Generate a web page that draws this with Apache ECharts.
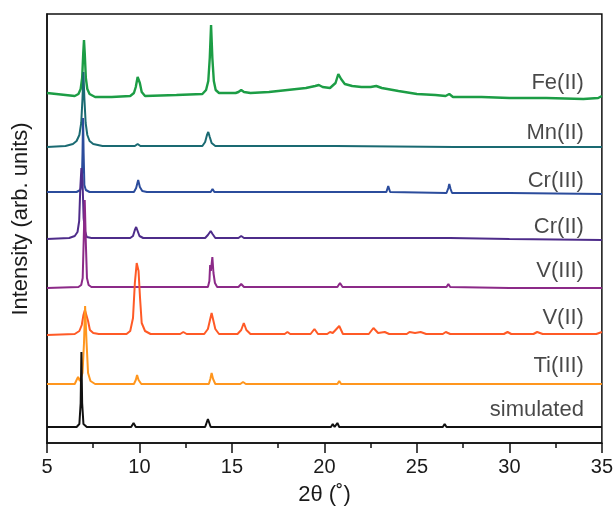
<!DOCTYPE html>
<html>
<head>
<meta charset="utf-8">
<script src="https://cdn.jsdelivr.net/npm/echarts@6/dist/echarts.min.js"></script>
<style>html,body{margin:0;padding:0;background:#fff}#c{width:616px;height:513px}</style>
</head>
<body>
<div id="c"></div>
<script>
// Series names (top to bottom) and colours
var names = ['Fe(II)', 'Mn(II)', 'Cr(III)', 'Cr(II)', 'V(III)', 'V(II)', 'Ti(III)', 'simulated'];
var colors = ['#1c9d45', '#1a6a72', '#2b4c9c', '#4e2c8a', '#8c2a88', '#ff5a26', '#ff961e', '#111111'];

// Patterns: [2theta, stacked intensity (arb. units, offset included)]
var feII = [[5,350],[6,348],[6.5,347],[6.7,349],[6.82,354],[6.9,365],[6.96,390],[7.0,403],[7.04,390],[7.1,365],[7.18,354],[7.3,349],[7.6,346],[8.5,346],[9.5,347],[9.7,350],[9.8,356],[9.9,366],[9.95,368],[10.02,360],[10.12,351],[10.3,347],[12,348],[13.4,349],[13.6,353],[13.72,362],[13.8,385],[13.87,418],[13.94,385],[14.02,362],[14.12,353],[14.3,350],[15.2,350],[15.35,351],[15.5,353],[15.65,351],[16,350],[17,351],[18,353],[19,355],[19.5,357],[19.7,358],[19.9,356],[20.3,355],[20.6,360],[20.75,369],[20.8,370],[20.9,364],[21.1,359],[21.5,357],[22,356],[22.5,356],[22.8,357],[23.1,355],[24,352],[25,349],[26,348],[26.55,347],[26.75,349],[26.95,346],[28.5,346],[30,345],[32,345],[34,344],[34.8,345],[35,347]];
var mnII = [[5,296],[6,297],[6.4,299],[6.6,302],[6.75,308],[6.85,320],[6.92,345],[6.97,371],[7.02,345],[7.09,320],[7.18,308],[7.3,302],[7.5,299],[8,297],[9.75,297],[9.9,299],[10.05,297],[13.4,297],[13.55,301],[13.65,308],[13.72,311],[13.8,306],[13.9,300],[14.1,297],[16,297],[20.4,297],[20.5,298],[20.6,297],[27,296],[35,296]];
var crIII = [[5,251],[6.6,251],[6.8,253],[6.88,258],[6.92,290],[6.95,325],[6.98,290],[7.02,258],[7.1,253],[7.3,251],[9.7,251],[9.82,255],[9.93,263],[10.02,256],[10.15,252],[10.4,251],[13.85,251],[13.95,254],[14.05,251],[15.4,251],[15.5,252],[15.6,251],[19.5,251],[19.6,253],[19.7,251],[20.4,251],[20.5,252],[20.6,251],[22.6,251],[22.7,253],[22.8,251],[23.35,251],[23.45,257],[23.55,251],[26.6,250],[26.7,255],[26.75,259],[26.82,254],[26.9,250],[30,250],[35,249]];
var crII = [[5,204],[6.2,205],[6.5,207],[6.65,211],[6.74,222],[6.8,255],[6.86,275],[6.92,262],[6.98,225],[7.05,212],[7.15,206],[7.4,205],[9.5,205],[9.65,207],[9.75,213],[9.82,216],[9.9,212],[10.0,207],[10.2,205],[13.55,205],[13.7,208],[13.85,212],[13.95,209],[14.1,205],[15.35,205],[15.5,207],[15.65,205],[19.5,205],[19.6,206],[19.7,205],[20.5,205],[20.6,206],[20.7,205],[22.7,205],[22.8,206],[22.9,205],[24.7,205],[24.8,206],[24.9,205],[26.6,205],[26.7,206],[26.8,205],[30,204],[35,203]];
var vIII = [[5,155],[6.7,156],[6.85,158],[6.93,165],[6.98,200],[7.04,243],[7.1,200],[7.16,165],[7.25,158],[7.4,156],[13.7,156],[13.78,162],[13.82,178],[13.86,172],[13.94,186],[14.0,170],[14.08,160],[14.2,156],[15.35,156],[15.5,159],[15.65,156],[19.5,156],[19.6,157],[19.7,156],[20.7,156],[20.84,160],[20.98,156],[22.6,156],[22.7,157],[22.8,156],[24.8,156],[24.9,157],[25,156],[26.6,156],[26.7,159],[26.8,156],[30,155],[35,155]];
var vII = [[5,108],[6.5,109],[6.75,112],[6.88,118],[6.97,128],[7.05,133],[7.15,131],[7.22,122],[7.32,113],[7.5,110],[7.8,109],[9.3,109],[9.5,112],[9.65,125],[9.75,160],[9.85,180],[9.95,172],[10.03,145],[10.12,120],[10.3,112],[10.6,109],[12.2,109],[12.37,111],[12.55,109],[13.5,109],[13.7,114],[13.8,122],[13.9,130],[14.0,122],[14.1,114],[14.3,109],[15.3,109],[15.5,113],[15.64,120],[15.78,113],[16,109],[17.85,109],[18.0,111],[18.15,109],[19.25,109],[19.46,114],[19.65,109],[20.15,109],[20.3,111],[20.45,110],[20.55,110],[20.8,117],[21.0,109],[22.4,109],[22.65,115],[22.9,110],[23.26,111],[23.5,109],[24.45,109],[24.6,111],[24.9,110],[25.2,111],[25.5,109],[26.4,109],[26.56,111],[26.8,109],[29.7,109],[29.9,111],[30.1,109],[31.3,109],[31.5,111],[31.8,109],[34.7,109],[35,111]];
var tiIII = [[5,59],[6.5,59],[6.6,63],[6.68,66],[6.78,62],[6.92,70],[7.0,100],[7.06,137],[7.14,100],[7.22,70],[7.35,62],[7.6,59],[9.7,59],[9.8,63],[9.87,68],[9.95,63],[10.1,59],[13.75,59],[13.83,64],[13.9,70],[13.98,64],[14.1,59],[15.45,59],[15.6,61],[15.75,59],[19.3,59],[19.4,60],[19.5,59],[20.7,59],[20.8,62],[20.9,59],[22.5,59],[22.6,60],[22.7,59],[35,59]];
var simulated = [[5,16],[6.6,16],[6.75,19],[6.82,40],[6.86,91],[6.9,40],[6.97,19],[7.15,16],[9.55,16],[9.68,20],[9.8,16],[13.55,16],[13.7,24],[13.85,16],[15.2,16],[15.3,17],[15.4,16],[16.9,16],[17,17],[17.1,16],[20.35,16],[20.45,19],[20.55,16],[20.62,16],[20.7,20],[20.8,16],[22.8,16],[22.9,18],[23,16],[24.5,16],[24.6,18],[24.7,16],[26.4,16],[26.5,19],[26.6,16],[29.4,16],[29.5,18],[29.6,16],[29.9,16],[30,18],[30.1,16],[32.9,16],[33,17],[33.1,16],[35,16]];
var patterns = [feII, mnII, crIII, crII, vIII, vII, tiIII, simulated];

// Label positions (2theta of right edge, height)
var labelX = [34.03, 34.03, 34.03, 34.03, 34.03, 34.03, 34.03, 34.03];
var labelY = [360, 310, 262, 216, 172, 125, 77, 33];

// Axis ticks
var xMin = 5, xMax = 35, xStep = 5;
var yMin = 0, yMax = 429;

var chart = echarts.init(document.getElementById('c'));
var series = patterns.map(function (d, i) {
  return {
    type: 'line', name: names[i], data: d, showSymbol: false, symbol: 'none',
    lineStyle: { color: colors[i], width: i === 0 ? 2.4 : 2 },
    z: 2 + i, silent: true, animation: false
  };
});
series.push({
  type: 'scatter', name: 'labels', symbolSize: 0, silent: true, animation: false, z: 20,
  data: names.map(function (n, i) { return { value: [labelX[i], labelY[i]], name: n }; }),
  label: {
    show: true, position: 'inside', formatter: '{b}', align: 'right', verticalAlign: 'middle',
    color: '#1a1a1a', fontSize: 22, fontFamily: 'Liberation Sans'
  }
});

chart.setOption({
  animation: false,
  backgroundColor: '#fff',
  grid: { left: 47, right: 11, top: 14, bottom: 70, show: true, borderColor: '#111', borderWidth: 1.5, backgroundColor: 'transparent' },
  xAxis: {
    type: 'value', min: xMin, max: xMax, interval: xStep,
    name: '2θ (˚)', nameLocation: 'middle', nameGap: 41,
    nameTextStyle: { fontSize: 22, color: '#1a1a1a', fontFamily: 'Liberation Sans' },
    axisLine: { show: true, lineStyle: { color: '#111', width: 1.5 } },
    axisTick: { show: true, inside: false, length: 10, lineStyle: { color: '#111', width: 1.5 } },
    minorTick: { show: true, splitNumber: 2, length: 5, lineStyle: { color: '#111', width: 1.5 } },
    axisLabel: { fontSize: 20, color: '#1a1a1a', margin: 14, fontFamily: 'Liberation Sans' },
    splitLine: { show: false }
  },
  yAxis: {
    type: 'value', min: yMin, max: yMax,
    axisLine: { show: true, lineStyle: { color: '#111', width: 1.5 } },
    axisTick: { show: false }, axisLabel: { show: false }, splitLine: { show: false }
  },
  graphic: [{
    type: 'text', x: 21, y: 219, rotation: Math.PI / 2,
    style: { text: 'Intensity (arb. units)', fontSize: 22, fill: '#1a1a1a', fontFamily: 'Liberation Sans', align: 'center', verticalAlign: 'middle' }
  }],
  series: series
});
</script>
</body>
</html>
